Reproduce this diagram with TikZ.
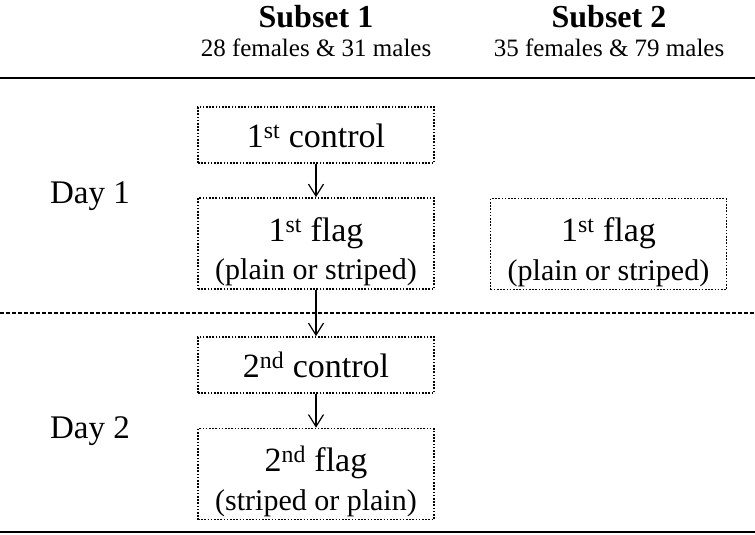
\documentclass[tikz,border=0pt]{standalone}
\usepackage{fontspec}
\setmainfont{Liberation Serif}
\usetikzlibrary{arrows.meta}
\tikzset{
	stagebox/.style = {draw, line width = 1.6pt, dash pattern = on 1.6pt off 1.6pt, minimum width = 236pt, inner sep = 0pt, align = center, font = \fontsize{34}{38.5}\selectfont},
	flagbox/.style = {stagebox, minimum height = 91pt},
	controlbox/.style = {stagebox, minimum height = 56pt},
	flow/.style = {line width = 1.2pt, -{Straight Barb[length = 12pt, width = 15pt, line width = 1.2pt]}}
}
\newcommand{\flagtext}[2]{\rule{0pt}{40pt}#1 flag\\{\fontsize{30}{34}\selectfont (#2)}}
\newcommand{\controltext}[1]{\rule{0pt}{26pt}#1 control}
\begin{document}
\begin{tikzpicture}[x = 1pt, y = -1pt]
			 	\useasboundingbox (0, 0) rectangle (755, 535);
			 	% Headings
			 	\node[font = \bfseries\fontsize{32}{36}\selectfont] (s1) at (316, 17) {Subset 1};
			 	\node[font = \fontsize{25}{28}\selectfont] (n1) at (316, 48) {28 females \& 31 males};
			 	\node[font = \bfseries\fontsize{32}{36}\selectfont] (s2) at (609, 17) {Subset 2};
			 	\node[font = \fontsize{25}{28}\selectfont] (n2) at (609, 48) {35 females \& 79 males};
			 	\node[font = \fontsize{33}{36}\selectfont] (d1) at (90, 196) {Day 1};
			 	\node[font = \fontsize{33}{36}\selectfont] (d2) at (90, 431) {Day 2};
			 	
			 	% Rules
			 	\draw[line width = 2pt] (0, 78) -- (755, 78);
			 	\draw[line width = 2pt, dash pattern = on 4pt off 2pt] (0, 313) -- (755, 313);
			 	\draw[line width = 2pt] (0, 532) -- (755, 532);
			 	
			 	% Boxes
			 	\node[controlbox] (c1) at (316, 135) {\controltext{1\textsuperscript{st}}};
			 	\node[flagbox] (f1) at (316, 243.5) {\flagtext{1\textsuperscript{st}}{plain or striped}};
			 	\node[flagbox] (g1) at (608.5, 244) {\flagtext{1\textsuperscript{st}}{plain or striped}};
			 	\node[controlbox] (c2) at (316, 365) {\controltext{2\textsuperscript{nd}}};
			 	\node[flagbox] (f2) at (316, 474) {\flagtext{2\textsuperscript{nd}}{striped or plain}};
			 	
			 	% Arrows
			 	\draw[flow] (c1) to (f1);
			 	\draw[flow] (f1) to (c2);
			 	\draw[flow] (c2) to (f2);
			\end{tikzpicture}
\end{document}
